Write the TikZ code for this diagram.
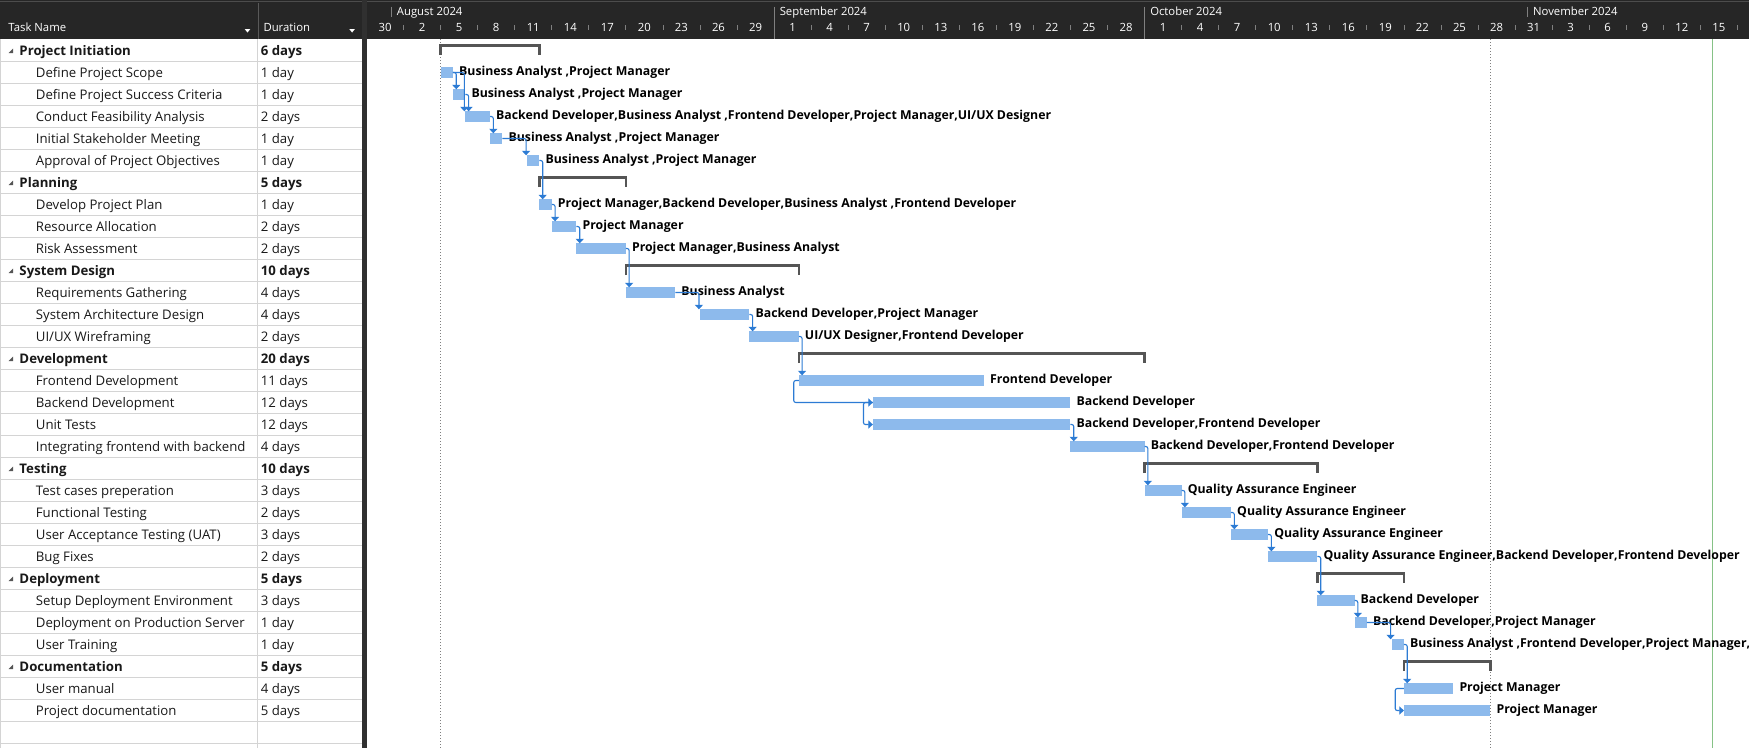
\documentclass[tikz,border=0pt]{standalone}
\usepackage{fontspec}
\setmainfont{Open Sans}
\usepackage{tikz}
\usetikzlibrary{arrows.meta}
\usetikzlibrary{calc}
\tikzset{>={Triangle[width=8pt,length=4.5pt]}}
\definecolor{barfill}{RGB}{141,186,236}
\definecolor{linkblue}{RGB}{44,123,212}
\definecolor{summarygray}{RGB}{85,85,85}
\definecolor{headerdark}{RGB}{38,38,38}
\definecolor{bandgray}{RGB}{48,48,48}
\definecolor{gridgray}{RGB}{212,212,212}
\definecolor{todaygreen}{RGB}{134,194,134}
\definecolor{taskink}{RGB}{25,25,25}
\newlength\wtask
\newlength\wlabel
\newlength\whead
\def\xstart{366.5}
\def\dayw{12.35}
% text sizes fitted to the widths of the screen shot
\AtBeginDocument{%
  \settowidth\wtask{\normalfont\fontsize{10}{12}\selectfont Define Project Success Criteria}%
  \pgfmathsetmacro\tasksize{10*186.6/\wtask}\global\let\tasksize\tasksize
  \settowidth\wlabel{\normalfont\fontsize{10}{12}\selectfont\bfseries Business Analyst ,Project Manager}%
  \pgfmathsetmacro\barlabelsize{10*211/\wlabel}\global\let\barlabelsize\barlabelsize
  \settowidth\whead{\normalfont\fontsize{10}{12}\selectfont Task Name}%
  \pgfmathsetmacro\headsize{10*57.7/\whead}\global\let\headsize\headsize
}

\begin{document}
\begin{tikzpicture}[x=1pt,y=-1pt,
    bar/.style={fill=barfill,inner sep=0pt,outer sep=0pt,minimum height=10.4pt,anchor=west},
    barlabel/.style={font=\fontsize{\barlabelsize}{\barlabelsize}\selectfont\bfseries,inner sep=0pt,anchor=base west},
    link/.style={draw=linkblue,line width=1.1pt,->,rounded corners=2pt},
    summarybracket/.style={draw=summarygray,line width=2.4pt},
    tasktext/.style={font=\fontsize{\tasksize}{\tasksize}\selectfont,text=taskink,inner sep=0pt,anchor=base west},
    summarytext/.style={tasktext,font=\fontsize{\tasksize}{\tasksize}\selectfont\bfseries},
    headtext/.style={font=\fontsize{\headsize}{\headsize}\selectfont,text=white,inner sep=0pt},
    headtick/.style={draw=gray,line width=0.8pt},
    rowline/.style={draw=gridgray,line width=1pt},
    marker/.style={draw=gray,line width=0.9pt,dash pattern=on 1pt off 2pt}
  ]
  \useasboundingbox (0,0) rectangle (1749,748);
  \clip (0,0) rectangle (1749,748);
  \fill[white] (0,0) rectangle (1749,748);

  % header
  \fill[headerdark] (0,0) rectangle (1749,39);
  \draw[black!70] (0,1.5) -- (1749,1.5);
  \draw[gray!70!black] (257.7,3) -- (257.7,39);
  \node[headtext,anchor=base west] (hname) at (8.3,31.7) {Task Name};
  \node[headtext,anchor=base west] (hdur) at (263.3,31.7) {Duration};
  \foreach \x in {244.7,349.3}
    \fill[white] (\x,29) -- ++(5.6,0) -- ++(-2.8,3.5) -- cycle;

  % timescale
  \foreach \d [count=\k from 0] in {30,2,5,8,11,14,17,20,23,26,29,1,4,7,10,13,16,19,22,25,28,1,4,7,10,13,16,19,22,25,28,31,3,6,9,12,15}
    \node[headtext,anchor=base] (day\k) at ({\xstart+(3*\k+1.5)*\dayw},31.7) {\d};
  \foreach \k in {1,...,37}
    \draw[headtick] ({\xstart+3*\k*\dayw},25) -- ++(0,5);
  \foreach \m/\dd in {August 2024/2,September 2024/33,October 2024/63,November 2024/94} {
    \draw[headtick] ({\xstart+\dd*\dayw},6.7) -- ++(0,10);
    \node[headtext,anchor=base west] (month\dd) at ({\xstart+\dd*\dayw+5.5},15.8) {\m};
  }
  \foreach \dd in {33,63}
    \draw[headtick] ({\xstart+\dd*\dayw},16.7) -- ++(0,22.3);

  % table
  \foreach \i in {1,...,32}
    \draw[rowline] (0,39+22*\i) -- (362,39+22*\i);
  \draw[rowline] (257.7,39) -- (257.7,748);
  \draw[rowline] (0.5,39) -- (0.5,748);
  \fill[bandgray] (362,0) rectangle (366.5,748);
  \foreach \name/\dur/\kind [count=\row from 0] in {
      Project Initiation/6 days/s,
      Define Project Scope/1 day/t,
      Define Project Success Criteria/1 day/t,
      Conduct Feasibility Analysis/2 days/t,
      Initial Stakeholder Meeting/1 day/t,
      Approval of Project Objectives/1 day/t,
      Planning/5 days/s,
      Develop Project Plan/1 day/t,
      Resource Allocation/2 days/t,
      Risk Assessment/2 days/t,
      System Design/10 days/s,
      Requirements Gathering/4 days/t,
      System Architecture Design/4 days/t,
      {UI/UX Wireframing}/2 days/t,
      Development/20 days/s,
      Frontend Development/11 days/t,
      Backend Development/12 days/t,
      Unit Tests/12 days/t,
      Integrating frontend with backend/4 days/t,
      Testing/10 days/s,
      Test cases preperation/3 days/t,
      Functional Testing/2 days/t,
      User Acceptance Testing (UAT)/3 days/t,
      Bug Fixes/2 days/t,
      Deployment/5 days/s,
      Setup Deployment Environment/3 days/t,
      Deployment on Production Server/1 day/t,
      User Training/1 day/t,
      Documentation/5 days/s,
      User manual/4 days/t,
      Project documentation/5 days/t} {
    \if s\kind
      \node[summarytext] (tn\row) at (19.3,39+22*\row+16) {\name};
      \node[summarytext] (td\row) at (260.7,39+22*\row+16) {\dur};
      \fill[summarygray] (8.5,39+22*\row+14) -- ++(4.5,0) -- ++(0,-4.5) -- cycle;
    \else
      \node[tasktext] (tn\row) at (35.7,39+22*\row+16) {\name};
      \node[tasktext] (td\row) at (260.7,39+22*\row+16) {\dur};
    \fi
  }

  % start, finish and today
  \draw[marker] ({\xstart+6*\dayw},39) -- ++(0,709);
  \draw[marker] ({\xstart+91*\dayw},39) -- ++(0,709);
  \draw[todaygreen,line width=1pt] (1712,39) -- (1712,748);

  % summary tasks
  \foreach \row/\s/\e in {0/6/14,6/14/21,10/21/35,14/35/63,19/63/77,24/77/84,28/84/91}
    \draw[summarybracket] ({\xstart+\s*\dayw},39+22*\row+16) |- ({\xstart+\e*\dayw},39+22*\row+6.3) -- ++(0,9.7);

  % tasks
  \foreach \row/\s/\e/\lab in {
      1/6/7/{Business Analyst ,Project Manager},
      2/7/8/{Business Analyst ,Project Manager},
      3/8/10/{Backend Developer,Business Analyst ,Frontend Developer,Project Manager,UI/UX Designer},
      4/10/11/{Business Analyst ,Project Manager},
      5/13/14/{Business Analyst ,Project Manager},
      7/14/15/{Project Manager,Backend Developer,Business Analyst ,Frontend Developer},
      8/15/17/{Project Manager},
      9/17/21/{Project Manager,Business Analyst},
      11/21/25/{Business Analyst},
      12/27/31/{Backend Developer,Project Manager},
      13/31/35/{UI/UX Designer,Frontend Developer},
      15/35/50/{Frontend Developer},
      16/41/57/{Backend Developer},
      17/41/57/{Backend Developer,Frontend Developer},
      18/57/63/{Backend Developer,Frontend Developer},
      20/63/66/{Quality Assurance Engineer},
      21/66/70/{Quality Assurance Engineer},
      22/70/73/{Quality Assurance Engineer},
      23/73/77/{Quality Assurance Engineer,Backend Developer,Frontend Developer},
      25/77/80/{Backend Developer},
      26/80/81/{Backend Developer,Project Manager},
      27/83/84/{Business Analyst ,Frontend Developer,Project Manager,},
      29/84/88/{Project Manager},
      30/84/91/{Project Manager}} {
    \node[bar,minimum width={(\e-\s)*\dayw}] (b\row) at ({\xstart+\s*\dayw},39+22*\row+11.5) {};
    \node[barlabel] (bl\row) at ([xshift=6pt,yshift=-2.8pt]b\row.east) {\lab};
  }

  % finish-to-start links
  \foreach \pa/\pb in {1/2,1/3,2/3,3/4,4/5,5/7,7/8,8/9,9/11,11/12,12/13,13/15,17/18,18/20,20/21,21/22,22/23,23/25,25/26,26/27,27/29}
    \draw[link] let \p1=(b\pa.east), \p2=(b\pb.north west) in
      (\p1) -| ({max(\x1+3.3pt,\x2-1pt)},\y2);
  % start-to-start links
  \foreach \pa/\pb/\o in {15/16/5,16/17/9.4,29/30/8.7}
    \draw[link] (b\pa.west) -- ++(-\o,0) |- (b\pb.west);
\end{tikzpicture}
\end{document}
